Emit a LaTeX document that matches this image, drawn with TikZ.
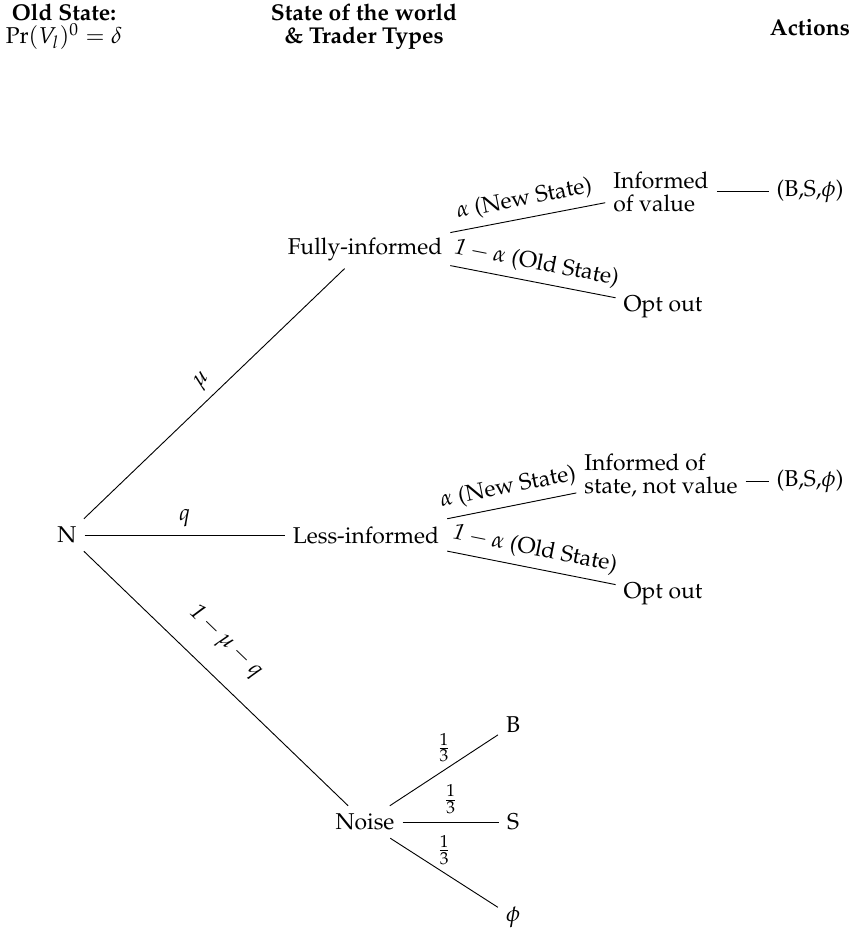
\documentclass[tikz,border=0pt]{standalone}
\usepackage[T1]{fontenc}
\usepackage{mathpazo}
\usetikzlibrary{calc}
\begin{document}
\begin{tikzpicture}[x=0.437pt,y=-0.437pt,
  every node/.style={inner sep=3.33pt},
  lab/.style={above,sloped},
  flab/.style={above},
  hdr/.style={align=center,font=\bfseries},
  multi/.style={align=left}]
\useasboundingbox (0,0) rectangle (853,929);
% headers
\node[align=center] (h1) at (64,27) {\textbf{Old State:}\\[-2pt]$\Pr(V_l)^0=\delta$};
\node[hdr] (h2) at (364,27) {State of the world\\[-2pt]\& Trader Types};
\node[hdr] (h3) at (810,28) {Actions};
% nodes
\node (N) at (67,535) {N};
\node (FI) at (365,249) {Fully-informed};
\node (LI) at (366,535) {Less-informed};
\node (NO) at (365,822) {Noise};
\node[multi] (IV) at (661,192) {Informed\\[-2pt]of value};
\node (BSP1) at (810,191) {(B,S,$\phi$)};
\node (OO1) at (663,307) {Opt out};
\node[multi] (IS) at (661,476) {Informed of\\[-2pt]state, not value};
\node (BSP2) at (810,481) {(B,S,$\phi$)};
\node (OO2) at (663,594) {Opt out};
\node (B) at (513,725) {B};
\node (S) at (513,822) {S};
\node (PHI) at (513,917) {$\phi$};
% edges
\draw (N) -- node[lab]{$\mu$} (FI);
\draw (N) -- node[flab]{$q$} (LI);
\draw (N) -- node[sloped,above=6pt,pos=0.45]{$\mathit{1}-\mu-q$} (NO);
\draw (FI) -- node[lab]{$\alpha$ (New State)} (IV);
\draw (FI) -- node[lab]{$\mathit{1}-\alpha$ (Old State)} (OO1);
\draw (LI) -- node[lab]{$\alpha$ (New State)} (IS);
\draw (LI) -- node[lab]{$\mathit{1}-\alpha$ (Old State)} (OO2);
\draw (IV.east |- BSP1.west) -- (BSP1.west);
\draw (IS.east |- BSP2.west) -- (BSP2.west);
\draw (NO) -- node[flab]{$\frac{1}{3}$} (B);
\draw (NO) -- node[flab]{$\frac{1}{3}$} (S);
\draw (NO) -- node[flab]{$\frac{1}{3}$} (PHI);
\end{tikzpicture}
\end{document}
